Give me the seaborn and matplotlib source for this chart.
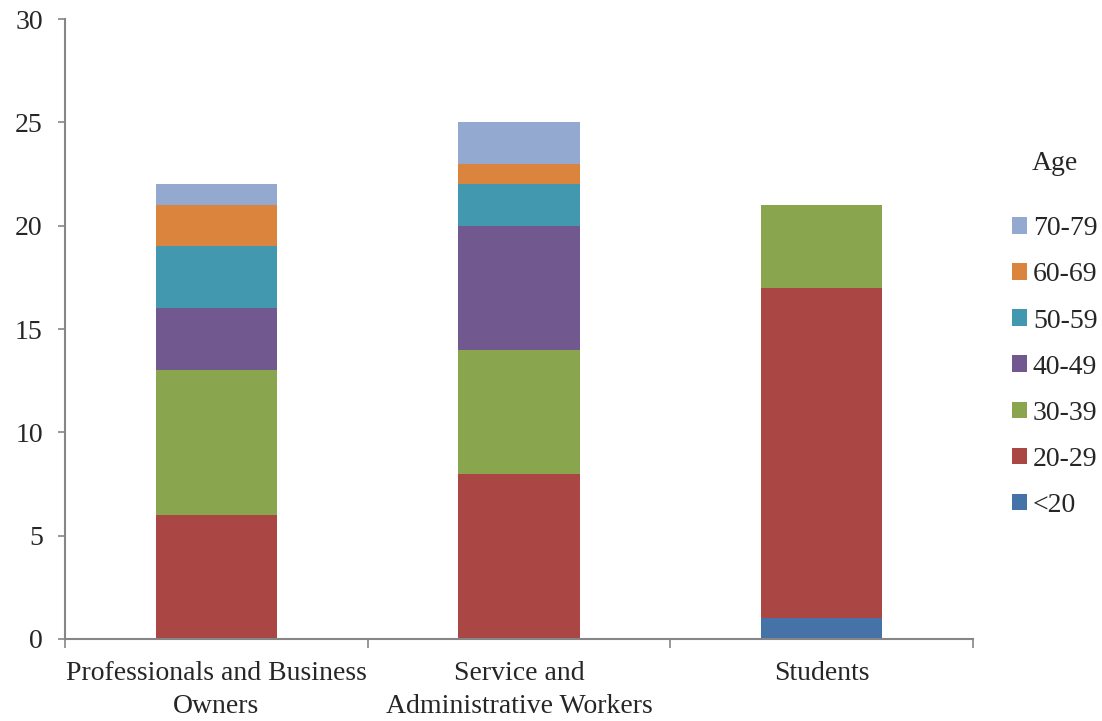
import matplotlib
matplotlib.use("Agg")
import matplotlib.pyplot as plt
import seaborn as sns
import pandas as pd
import numpy as np
from matplotlib.patches import Patch

categories = ["Professionals and Business\nOwners", "Service and\nAdministrative Workers", "Students"]
age_groups = ["<20", "20-29", "30-39", "40-49", "50-59", "60-69", "70-79"]
under20 = [0, 0, 1]
age20_29 = [6, 8, 16]
age30_39 = [7, 6, 4]
age40_49 = [3, 6, 0]
age50_59 = [3, 2, 0]
age60_69 = [2, 1, 0]
age70_79 = [1, 2, 0]
series = [under20, age20_29, age30_39, age40_49, age50_59, age60_69, age70_79]
colors = ["#4572A7", "#AA4643", "#89A54E", "#71588F", "#4198AF", "#DB843D", "#93A9CF"]

sns.set_theme(style="white")
plt.rcParams['font.family'] = ['Liberation Serif', 'DejaVu Serif']

fig = plt.figure(figsize=(11.02, 7.21), dpi=100)
ax = fig.add_axes([65/1102, 1-639/721, 908/1102, 620/721])

cum = np.cumsum(np.array(series), axis=0)
# draw cumulative heights from top down so lower segments cover upper ones
for i in range(len(age_groups) - 1, -1, -1):
    df = pd.DataFrame({"cat": categories, "val": cum[i]})
    sns.barplot(data=df, x="cat", y="val", color=colors[i], width=0.4,
                saturation=1, ax=ax, order=categories, linewidth=0)

ax.set_xlim(-0.5, 2.5)
ax.set_ylim(0, 30)
ax.set_yticks([0, 5, 10, 15, 20, 25, 30])
ax.set_xlabel("")
ax.set_ylabel("")
for s in ["top", "right"]:
    ax.spines[s].set_visible(False)
for s in ["left", "bottom"]:
    ax.spines[s].set_color("#868686")
    ax.spines[s].set_linewidth(1.5)
ax.tick_params(axis="y", which="major", length=5, width=1.2, color="#868686",
               labelsize=20, pad=11, left=True)
ax.tick_params(axis="x", which="major", length=0, labelsize=20, pad=16)
ax.set_xticks([-0.5, 0.5, 1.5, 2.5], minor=True)
ax.tick_params(axis="x", which="minor", length=6.5, width=1.2, color="#868686", bottom=True)
for lbl in ax.get_xticklabels():
    lbl.set_linespacing(1.4)

handles = [Patch(facecolor=colors[i], edgecolor="none", label=age_groups[i])
           for i in range(len(age_groups) - 1, -1, -1)]
leg = fig.legend(handles=handles, title="Age", loc="upper left",
                 bbox_to_anchor=(987/1102, 1-126/721), frameon=False,
                 fontsize=20, title_fontsize=20, handlelength=0.55, handleheight=0.55,
                 handletextpad=0.2, labelspacing=0.76, alignment="center")
leg._legend_box.sep = 29

fig.savefig("out.png", dpi=100)
